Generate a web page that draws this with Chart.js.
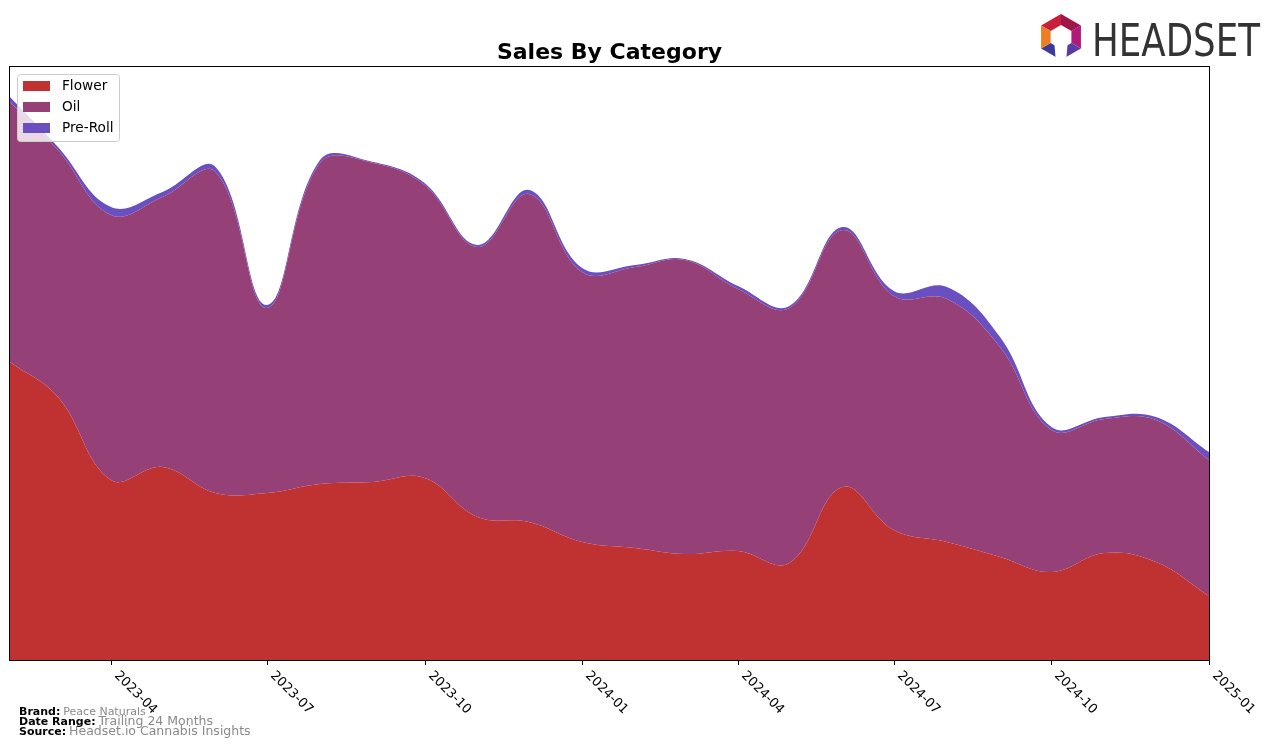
<!DOCTYPE html>
<html lang="en">
<head>
    <meta charset="UTF-8">
    <title>Sales By Category</title>
    <script src="https://cdn.jsdelivr.net/npm/chart.js@4.4.1/dist/chart.umd.min.js"></script>
    <style>
        html, body {
            margin: 0;
            padding: 0;
            background: #fff;
        }
        #wrap {
            width: 1276px;
            height: 748px;
            position: relative;
        }
    </style>
</head>
<body>
    <div id="wrap">
        <canvas id="chart" width="1276" height="748"></canvas>
    </div>

    <script>
        // monthly data, Feb 2023 .. Jan 2025 (arbitrary units)
        const months = [
            '2023-02', '2023-03', '2023-04', '2023-05', '2023-06', '2023-07',
            '2023-08', '2023-09', '2023-10', '2023-11', '2023-12', '2024-01',
            '2024-02', '2024-03', '2024-04', '2024-05', '2024-06', '2024-07',
            '2024-08', '2024-09', '2024-10', '2024-11', '2024-12', '2025-01'
        ];
        const flower = [298, 263, 180, 193, 167, 167, 176, 178, 182, 143, 138, 118,
                        112, 106, 109, 97, 173, 130, 118, 103, 88, 107, 98, 64];
        const oil = [260, 247, 265, 270, 321, 185, 321, 319, 293, 270, 328, 270,
                     281, 294, 262, 255, 257, 234, 243, 210, 142, 134, 142, 136];
        const preRoll = [5, 3, 8, 5, 5, 3, 3, 1, 2, 2, 4, 4,
                         2, 1, 3, 2, 3, 5, 12, 10, 3, 2, 3, 8];
        const tickLabels = ['2023-04', '2023-07', '2023-10', '2024-01', '2024-04', '2024-07', '2024-10', '2025-01'];

        const seriesNames = ['Flower', 'Oil', 'Pre-Roll'];
        const seriesColors = ['#c03232', '#954077', '#6a4fc0'];

        // days since epoch, so that month lengths are kept
        function toDay(s) {
            const p = s.split('-');
            return Date.UTC(+p[0], +p[1] - 1, 1) / 86400000;
        }
        const xs = months.map(toDay);

        function points(values) {
            return values.map((v, i) => ({ x: xs[i], y: v }));
        }

        // title, frame, ticks, legend, footer and logo
        const decorations = {
            id: 'decorations',
            afterDraw(chart) {
                const ctx = chart.ctx;
                const a = chart.chartArea;
                const xScale = chart.scales.x;
                ctx.save();

                // frame
                ctx.strokeStyle = '#000';
                ctx.lineWidth = 1;
                ctx.strokeRect(a.left - 0.5, a.top - 0.5, a.right - a.left + 1, a.bottom - a.top + 1);

                // title
                ctx.fillStyle = '#000';
                ctx.font = 'bold 22px "DejaVu Sans"';
                ctx.textAlign = 'center';
                ctx.textBaseline = 'middle';
                ctx.fillText('Sales By Category', (a.left + a.right) / 2, 53);

                // x ticks + rotated labels
                ctx.font = '13px "DejaVu Sans"';
                ctx.textAlign = 'left';
                ctx.textBaseline = 'top';
                tickLabels.forEach(t => {
                    const x = Math.round(xScale.getPixelForValue(toDay(t)));
                    ctx.beginPath();
                    ctx.moveTo(x + 0.5, a.bottom);
                    ctx.lineTo(x + 0.5, a.bottom + 5);
                    ctx.stroke();
                    ctx.save();
                    ctx.translate(x + 10, a.bottom + 9);
                    ctx.rotate(Math.PI / 4);
                    ctx.fillText(t, 0, 0);
                    ctx.restore();
                });

                // legend
                const lx = 17, ly = 74, lw = 102, lh = 67;
                ctx.fillStyle = 'rgba(255,255,255,0.8)';
                ctx.strokeStyle = '#cccccc';
                ctx.beginPath();
                ctx.roundRect(lx + 0.5, ly + 0.5, lw, lh, 3);
                ctx.fill();
                ctx.stroke();
                ctx.font = '13.7px "DejaVu Sans"';
                ctx.textBaseline = 'middle';
                seriesNames.forEach((name, i) => {
                    const cy = 86 + i * 21;
                    ctx.fillStyle = seriesColors[i];
                    ctx.fillRect(23, cy - 5, 27, 10);
                    ctx.fillStyle = '#000';
                    ctx.fillText(name, 62, cy);
                });

                // footer
                const footer = [
                    ['Brand:', 'Peace Naturals', 11],
                    ['Date Range:', 'Trailing 24 Months', 12.5],
                    ['Source:', 'Headset.io Cannabis Insights', 12.5]
                ];
                footer.forEach((f, i) => {
                    const y = 712 + i * 10;
                    ctx.font = 'bold 11px "DejaVu Sans"';
                    ctx.fillStyle = '#000';
                    ctx.fillText(f[0], 19, y);
                    const w = ctx.measureText(f[0]).width;
                    ctx.font = f[2] + 'px "DejaVu Sans"';
                    ctx.fillStyle = '#8a8a8a';
                    ctx.fillText(f[1], 19 + w + 3, y);
                });

                // logo icon
                const cx = 1061, cy = 37;
                const segs = [
                    ['#c8203a', -150, -90], ['#a0164a', -90, -30], ['#b01a7a', -30, 30],
                    ['#5a3aa8', 30, 90], ['#3a3a9a', 90, 150], ['#ef7d22', 150, 210]
                ];
                segs.forEach(s => {
                    const r1 = 23, r2 = 12;
                    const t0 = s[1] * Math.PI / 180, t1 = s[2] * Math.PI / 180;
                    ctx.fillStyle = s[0];
                    ctx.beginPath();
                    ctx.moveTo(cx + r1 * Math.cos(t0), cy + r1 * Math.sin(t0));
                    ctx.lineTo(cx + r1 * Math.cos(t1), cy + r1 * Math.sin(t1));
                    ctx.lineTo(cx + r2 * Math.cos(t1), cy + r2 * Math.sin(t1));
                    ctx.lineTo(cx + r2 * Math.cos(t0), cy + r2 * Math.sin(t0));
                    ctx.closePath();
                    ctx.fill();
                });
                // cut the bottom open
                ctx.fillStyle = '#fff';
                ctx.beginPath();
                ctx.moveTo(cx - 7, cy + 2);
                ctx.lineTo(cx + 7, cy + 2);
                ctx.lineTo(cx + 5, cy + 26);
                ctx.lineTo(cx - 5, cy + 26);
                ctx.closePath();
                ctx.fill();

                // logo text
                ctx.save();
                ctx.fillStyle = '#333333';
                ctx.font = '44px "DejaVu Sans"';
                ctx.textBaseline = 'alphabetic';
                const tw = ctx.measureText('HEADSET').width;
                ctx.translate(1092, 56);
                ctx.scale(168 / tw, 1);
                ctx.fillText('HEADSET', 0, 0);
                ctx.restore();

                ctx.restore();
            }
        };

        function dataset(i, values) {
            return {
                label: seriesNames[i],
                data: points(values),
                backgroundColor: seriesColors[i],
                borderColor: seriesColors[i],
                borderWidth: 0,
                pointRadius: 0,
                fill: i === 0 ? 'origin' : '-1',
                tension: 0.4
            };
        }

        new Chart(document.getElementById('chart'), {
            type: 'line',
            data: {
                datasets: [dataset(0, flower), dataset(1, oil), dataset(2, preRoll)]
            },
            options: {
                responsive: false,
                animation: false,
                layout: {
                    padding: { left: 10, right: 67, top: 67, bottom: 88 }
                },
                scales: {
                    x: {
                        type: 'linear',
                        display: false,
                        min: xs[0],
                        max: xs[xs.length - 1]
                    },
                    y: {
                        display: false,
                        stacked: true,
                        min: 0,
                        max: 593
                    }
                },
                plugins: {
                    legend: { display: false },
                    tooltip: { enabled: false }
                }
            },
            plugins: [decorations]
        });
    </script>
</body>
</html>
